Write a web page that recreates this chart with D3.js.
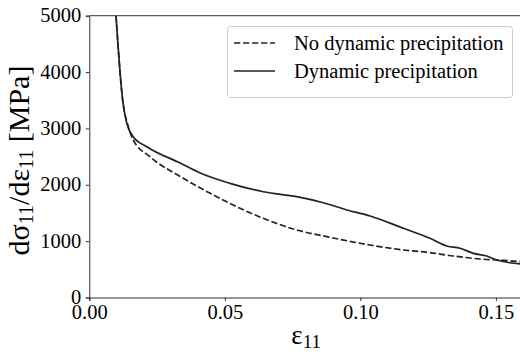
<!DOCTYPE html>
<html><head><meta charset="utf-8">
<script src="https://cdn.jsdelivr.net/npm/d3@7"></script>
<style>body{margin:0;background:#fff}svg{display:block}text{font-family:"Liberation Serif","Times New Roman",serif;fill:#000}</style>
</head><body><svg id="c" width="520" height="354"></svg>
<script>
const noDynStrain = [0.00985,0.0123,0.0144,0.0162,0.0224,0.0347,0.0470,0.0556,0.0642,0.0765,0.0888,0.1036,0.1159,0.1250,0.1343,0.1442,0.1530,0.1600];
const noDynValue  = [5000,3504,3031,2795,2498,2115,1788,1583,1405,1198,1068,931,843,800,736,683,660,630];
const dynStrain = [0.00985,0.0123,0.0138,0.0162,0.0212,0.0335,0.0409,0.0519,0.0642,0.0765,0.0863,0.0950,0.1036,0.1159,0.1257,0.1319,0.1368,0.1417,0.1466,0.1503,0.1552,0.1600];
const dynValue  = [5000,3504,3096,2853,2676,2386,2209,2026,1877,1789,1682,1553,1446,1228,1050,914,873,784,736,665,617,590];
const xTicks = [0.00,0.05,0.10,0.15];
const yTicks = [0,1000,2000,3000,4000,5000];
const seriesNames = ["No dynamic precipitation","Dynamic precipitation"];

const svg = d3.select("#c");
const L=89.3, R=523, T=15.7, B=297.5;
const FS=20.5;
const DASH="6.3,2.7";
const x = d3.scaleLinear().domain([0,0.16]).range([L,R]);
const y = d3.scaleLinear().domain([0,5000]).range([B,T]);

const clip = svg.append("defs").append("clipPath").attr("id","pc");
clip.append("rect").attr("x",L).attr("y",T).attr("width",R-L).attr("height",B-T);

const line = d3.line().x(d=>x(d[0])).y(d=>y(d[1])).curve(d3.curveMonotoneX);
const g = svg.append("g").attr("clip-path","url(#pc)");
g.append("path").datum(d3.zip(noDynStrain,noDynValue)).attr("d",line)
  .attr("fill","none").attr("stroke","#222").attr("stroke-width",1.7).attr("stroke-dasharray",DASH);
g.append("path").datum(d3.zip(dynStrain,dynValue)).attr("d",line)
  .attr("fill","none").attr("stroke","#222").attr("stroke-width",1.7);

const xa = svg.append("g").attr("transform",`translate(0,${B})`)
  .call(d3.axisBottom(x).tickValues(xTicks).tickFormat(d3.format(".2f")).tickSizeOuter(0).tickSize(3.5).tickPadding(3.5));
const ya = svg.append("g").attr("transform",`translate(${L},0)`)
  .call(d3.axisLeft(y).tickValues(yTicks).tickFormat(d3.format("d")).tickSizeOuter(0).tickSize(3.5).tickPadding(4.5));
[xa,ya].forEach(a=>{a.attr("font-family",null);
  a.select(".domain").attr("stroke","#333").attr("stroke-width",1);
  a.selectAll(".tick line").attr("stroke","#333");
  a.selectAll("text").attr("font-size",FS).attr("font-family","Liberation Serif").attr("fill","#000");});
ya.selectAll("text").attr("dy","0.3em");
svg.append("line").attr("x1",L).attr("x2",R).attr("y1",T).attr("y2",T).attr("stroke","#333").attr("stroke-width",1);

// axis labels
const xl = svg.append("text").attr("x",(L+R)/2).attr("y",343.5).attr("text-anchor","middle").attr("font-size",27);
xl.append("tspan").text("ε");
xl.append("tspan").attr("font-size",19).attr("dy",4).text("11");

const yl = svg.append("text").attr("transform",`translate(28.5,160.5) rotate(-90)`).attr("text-anchor","middle").attr("font-size",30);
yl.append("tspan").text("dσ");
yl.append("tspan").attr("font-size",20).attr("dy",4.5).text("11");
yl.append("tspan").attr("dy",-4.5).text("/dε");
yl.append("tspan").attr("font-size",20).attr("dy",4.5).text("11");
yl.append("tspan").attr("dy",-4.5).text(" [MPa]");

// legend
const lg = svg.append("g");
lg.append("rect").attr("x",227.5).attr("y",26.5).attr("width",285).attr("height",71).attr("rx",3)
  .attr("fill","#fff").attr("fill-opacity",0.8).attr("stroke","#ccc").attr("stroke-width",1);
const dashes=[DASH,null];
seriesNames.forEach((n,i)=>{
  const yy = 43 + i*28;
  const l = lg.append("line").attr("x1",234).attr("x2",275).attr("y1",yy).attr("y2",yy).attr("stroke","#222").attr("stroke-width",1.7);
  if(dashes[i]) l.attr("stroke-dasharray",dashes[i]);
  lg.append("text").attr("x",294).attr("y",yy).attr("dy","0.33em").attr("font-size",FS).text(n);
});
</script></body></html>
